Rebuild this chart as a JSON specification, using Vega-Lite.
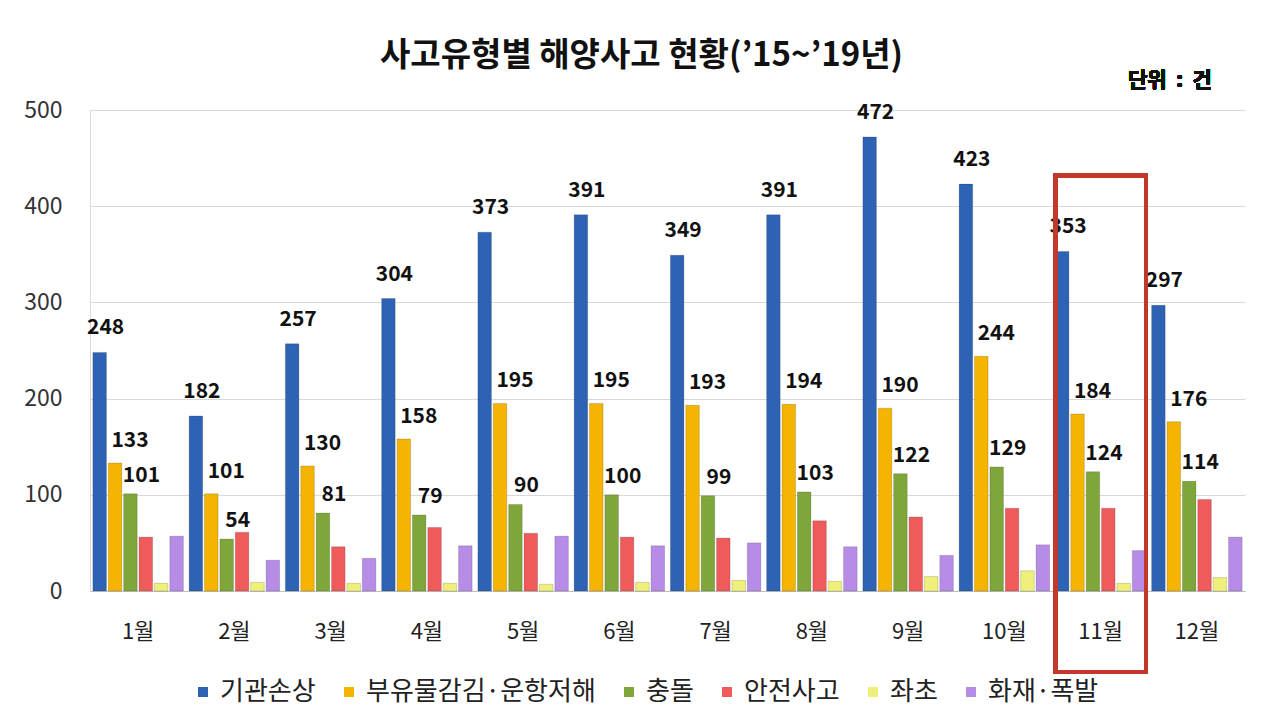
{
  "$schema": "https://vega.github.io/schema/vega-lite/v6.json",
  "width": 1155,
  "height": 481,
  "autosize": {"type": "none"},
  "padding": {"left": 90, "top": 110, "right": 28, "bottom": 130},
  "background": "white",
  "config": {"view": {"stroke": null}, "font": "Noto Sans CJK KR"},
  "title": {"text": "사고유형별 해양사고 현황(’15~’19년)", "fontSize": 33, "font": "Noto Sans CJK KR", "fontWeight": "bold", "color": "#111", "offset": -3, "dx": -26, "anchor": "middle"},
  "data": {"values": [
    {"m":"1월","t":"기관손상","v":248},{"m":"2월","t":"기관손상","v":182},{"m":"3월","t":"기관손상","v":257},{"m":"4월","t":"기관손상","v":304},{"m":"5월","t":"기관손상","v":373},{"m":"6월","t":"기관손상","v":391},{"m":"7월","t":"기관손상","v":349},{"m":"8월","t":"기관손상","v":391},{"m":"9월","t":"기관손상","v":472},{"m":"10월","t":"기관손상","v":423},{"m":"11월","t":"기관손상","v":353},{"m":"12월","t":"기관손상","v":297},
    {"m":"1월","t":"부유물감김·운항저해","v":133},{"m":"2월","t":"부유물감김·운항저해","v":101},{"m":"3월","t":"부유물감김·운항저해","v":130},{"m":"4월","t":"부유물감김·운항저해","v":158},{"m":"5월","t":"부유물감김·운항저해","v":195},{"m":"6월","t":"부유물감김·운항저해","v":195},{"m":"7월","t":"부유물감김·운항저해","v":193},{"m":"8월","t":"부유물감김·운항저해","v":194},{"m":"9월","t":"부유물감김·운항저해","v":190},{"m":"10월","t":"부유물감김·운항저해","v":244},{"m":"11월","t":"부유물감김·운항저해","v":184},{"m":"12월","t":"부유물감김·운항저해","v":176},
    {"m":"1월","t":"충돌","v":101},{"m":"2월","t":"충돌","v":54},{"m":"3월","t":"충돌","v":81},{"m":"4월","t":"충돌","v":79},{"m":"5월","t":"충돌","v":90},{"m":"6월","t":"충돌","v":100},{"m":"7월","t":"충돌","v":99},{"m":"8월","t":"충돌","v":103},{"m":"9월","t":"충돌","v":122},{"m":"10월","t":"충돌","v":129},{"m":"11월","t":"충돌","v":124},{"m":"12월","t":"충돌","v":114},
    {"m":"1월","t":"안전사고","v":56},{"m":"2월","t":"안전사고","v":61},{"m":"3월","t":"안전사고","v":46},{"m":"4월","t":"안전사고","v":66},{"m":"5월","t":"안전사고","v":60},{"m":"6월","t":"안전사고","v":56},{"m":"7월","t":"안전사고","v":55},{"m":"8월","t":"안전사고","v":73},{"m":"9월","t":"안전사고","v":77},{"m":"10월","t":"안전사고","v":86},{"m":"11월","t":"안전사고","v":86},{"m":"12월","t":"안전사고","v":95},
    {"m":"1월","t":"좌초","v":8},{"m":"2월","t":"좌초","v":9},{"m":"3월","t":"좌초","v":8},{"m":"4월","t":"좌초","v":8},{"m":"5월","t":"좌초","v":7},{"m":"6월","t":"좌초","v":9},{"m":"7월","t":"좌초","v":11},{"m":"8월","t":"좌초","v":10},{"m":"9월","t":"좌초","v":15},{"m":"10월","t":"좌초","v":21},{"m":"11월","t":"좌초","v":8},{"m":"12월","t":"좌초","v":14},
    {"m":"1월","t":"화재·폭발","v":57},{"m":"2월","t":"화재·폭발","v":32},{"m":"3월","t":"화재·폭발","v":34},{"m":"4월","t":"화재·폭발","v":47},{"m":"5월","t":"화재·폭발","v":57},{"m":"6월","t":"화재·폭발","v":47},{"m":"7월","t":"화재·폭발","v":50},{"m":"8월","t":"화재·폭발","v":46},{"m":"9월","t":"화재·폭발","v":37},{"m":"10월","t":"화재·폭발","v":48},{"m":"11월","t":"화재·폭발","v":42},{"m":"12월","t":"화재·폭발","v":56}
  ]},
  "layer": [
    {
      "mark": {"type": "bar", "stroke": "#00000033", "strokeWidth": 0.8},
      "encoding": {
        "x": {"field": "m", "type": "nominal", "scale": {"domain": ["1월","2월","3월","4월","5월","6월","7월","8월","9월","10월","11월","12월"], "paddingInner": 0.06, "paddingOuter": 0.03},
              "axis": {"title": null, "labelAngle": 0, "ticks": false, "labelPadding": 30, "labelFontSize": 22, "labelColor": "#222", "domainColor": "#bfbfbf", "labelFont": "Noto Sans CJK KR"}},
        "xOffset": {"field": "t", "type": "nominal", "scale": {"domain": ["기관손상","부유물감김·운항저해","충돌","안전사고","좌초","화재·폭발"], "paddingInner": 0.12}},
        "y": {"field": "v", "type": "quantitative", "scale": {"domain": [0, 500]},
              "axis": {"title": null, "values": [0,100,200,300,400,500], "ticks": false, "labelPadding": 28, "labelFontSize": 23, "labelColor": "#333", "domainColor": "#d9d9d9", "gridColor": "#d9d9d9", "labelFont": "Noto Sans CJK KR"}},
        "color": {"field": "t", "type": "nominal",
                  "scale": {"domain": ["기관손상","부유물감김·운항저해","충돌","안전사고","좌초","화재·폭발"], "range": ["#2e62b4","#f4b400","#7ea63a","#ef5b5b","#eef07a","#b68ce6"]},
                  "legend": {"orient": "none", "legendX": 100, "legendY": 569, "direction": "horizontal", "title": null, "symbolType": "square", "symbolSize": 100, "labelFontSize": 26, "labelLimit": 500, "labelFont": "Noto Sans CJK KR", "labelColor": "#222", "columnPadding": 20, "labelOffset": 4, "symbolStrokeWidth": 0}}
      }
    },
    {
      "transform": [{"filter": "datum.t === '기관손상'"}],
      "mark": {"type": "text", "fontSize": 21, "fontWeight": "bold", "baseline": "alphabetic", "dx": 6, "dy": -18, "color": "#111", "font": "Noto Sans CJK KR"},
      "encoding": {
        "x": {"field": "m", "type": "nominal"},
        "xOffset": {"field": "t", "type": "nominal"},
        "y": {"field": "v", "type": "quantitative"},
        "text": {"field": "v", "type": "quantitative"}
      }
    },
    {
      "transform": [{"filter": "datum.t === '부유물감김·운항저해'"}],
      "mark": {"type": "text", "fontSize": 21, "fontWeight": "bold", "baseline": "alphabetic", "dx": 15, "dy": -16, "color": "#111", "font": "Noto Sans CJK KR"},
      "encoding": {
        "x": {"field": "m", "type": "nominal"},
        "xOffset": {"field": "t", "type": "nominal"},
        "y": {"field": "v", "type": "quantitative"},
        "text": {"field": "v", "type": "quantitative"}
      }
    },
    {
      "transform": [{"filter": "datum.t === '충돌'"}],
      "mark": {"type": "text", "fontSize": 21, "fontWeight": "bold", "baseline": "alphabetic", "dx": 11, "dy": -12, "color": "#111", "font": "Noto Sans CJK KR"},
      "encoding": {
        "x": {"field": "m", "type": "nominal"},
        "xOffset": {"field": "t", "type": "nominal"},
        "y": {"field": "v", "type": "quantitative"},
        "text": {"field": "v", "type": "quantitative"}
      }
    },
    {
      "mark": {"type": "bar", "fill": null, "stroke": "#c0392b", "strokeWidth": 3.5, "clip": false},
      "encoding": {
        "x": {"datum": "11월", "type": "nominal"},
        "y": {"datum": 432, "type": "quantitative"},
        "y2": {"datum": -84}
      }
    },
    {
      "mark": {"type": "text", "fontSize": 21, "fontWeight": "bold", "color": "#111", "align": "center", "dx": -27, "font": "Noto Sans CJK KR"},
      "encoding": {
        "x": {"datum": "12월", "type": "nominal"},
        "y": {"datum": 530, "type": "quantitative"},
        "text": {"value": "단위\u00a0\u00a0:\u00a0\u00a0건"}
      }
    }
  ]
}
